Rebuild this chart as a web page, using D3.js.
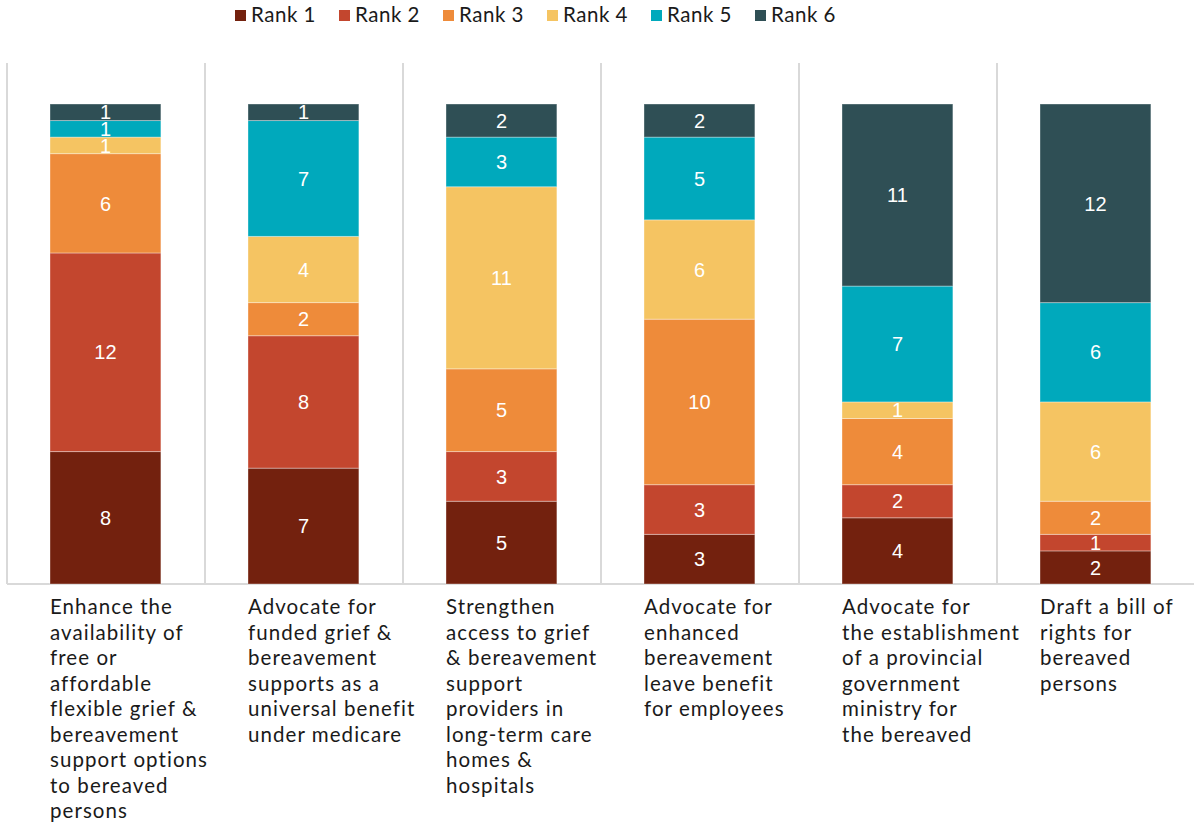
<!DOCTYPE html>
<html><head><meta charset="utf-8">
<script src="https://cdn.jsdelivr.net/npm/d3@7/dist/d3.min.js"></script>
<style>body{margin:0;background:#fff;}svg{display:block;}</style>
</head><body>
<svg id="chart" width="1194" height="825"></svg>
<script>
const categories = [
  ["Enhance the","availability of","free or","affordable","flexible grief &","bereavement","support options","to bereaved","persons"],
  ["Advocate for","funded grief &","bereavement","supports as a","universal benefit","under medicare"],
  ["Strengthen","access to grief","& bereavement","support","providers in","long-term care","homes &","hospitals"],
  ["Advocate for","enhanced","bereavement","leave benefit","for employees"],
  ["Advocate for","the establishment","of a provincial","government","ministry for","the bereaved"],
  ["Draft a bill of","rights for","bereaved","persons"]
];
const seriesNames = ["Rank 1","Rank 2","Rank 3","Rank 4","Rank 5","Rank 6"];
const rank1 = [8,7,5,3,4,2];
const rank2 = [12,8,3,3,2,1];
const rank3 = [6,2,5,10,4,2];
const rank4 = [1,4,11,6,1,6];
const rank5 = [1,7,3,5,7,6];
const rank6 = [1,1,2,2,11,12];
const colors = ["#73210e","#c3462e","#ee8b3a","#f5c462","#00a9bc","#2f4f55"];

const seriesVals = [rank1,rank2,rank3,rank4,rank5,rank6];
const data = categories.map((c,i)=>{
  const o = {idx:i};
  seriesNames.forEach((s,j)=>o[s]=seriesVals[j][i]);
  return o;
});
const svg = d3.select("#chart");
const FONT = "Lato, 'Noto Sans', sans-serif";
const x = d3.scaleBand().domain(d3.range(categories.length)).range([7,1195]).paddingInner(0).paddingOuter(0);
const y = d3.scaleLinear().domain([0,29]).range([584,104]);
const stack = d3.stack().keys(seriesNames)(data);

// letter spacing that makes a sample string reach a target width at a given size
function fitSpacing(sample, size, target){
  const t = svg.append("text").attr("font-family",FONT).attr("font-size",size).text(sample);
  const w = t.node().getComputedTextLength();
  t.remove();
  return (target - w) / sample.length;
}

// vertical gridlines
svg.append("g").selectAll("line").data(d3.range(categories.length)).join("line")
  .attr("x1",d=>x(d)).attr("x2",d=>x(d)).attr("y1",63).attr("y2",584)
  .attr("stroke","#d9d9d9").attr("stroke-width",2);
// baseline
svg.append("line").attr("x1",7).attr("x2",1194).attr("y1",584).attr("y2",584)
  .attr("stroke","#d9d9d9").attr("stroke-width",2);

const bw = x.bandwidth()*0.56;
const off = 43;
const layers = svg.append("g").selectAll("g").data(stack).join("g").attr("fill",(d,i)=>colors[i]);
layers.selectAll("rect").data(d=>d).join("rect")
  .attr("x",d=>x(d.data.idx)+off).attr("width",bw)
  .attr("y",d=>y(d[1])).attr("height",d=>y(d[0])-y(d[1]))
  .attr("stroke","rgba(255,255,255,0.35)").attr("stroke-width",1);
layers.selectAll("text").data(d=>d).join("text")
  .attr("x",d=>x(d.data.idx)+off+bw/2).attr("y",d=>(y(d[0])+y(d[1]))/2)
  .attr("dy","0.36em").attr("text-anchor","middle")
  .attr("fill","#fff").attr("font-family","Liberation Sans, Arial, sans-serif").attr("font-size",20)
  .text(d=>d[1]-d[0]);

// category labels
const labSize = 20.5;
const labSp = fitSpacing("Enhance the", labSize, 123);
const lab = svg.append("g").selectAll("text").data(categories).join("text")
  .attr("font-family",FONT).attr("font-size",labSize).attr("letter-spacing",labSp).attr("fill","#1a1a1a");
lab.each(function(lines,i){
  d3.select(this).selectAll("tspan").data(lines).join("tspan")
    .attr("x",x(i)+off).attr("y",(d,k)=>614+k*25.5).text(d=>d);
});

// legend
const legSize = 20.5;
const legSp = fitSpacing("Rank 2", legSize, 65);
const lg = svg.append("g");
let lx = 235;
seriesNames.forEach((s,i)=>{
  lg.append("rect").attr("x",lx).attr("y",10).attr("width",11).attr("height",11).attr("fill",colors[i]);
  const t = lg.append("text").attr("x",lx+16).attr("y",22).attr("font-family",FONT)
    .attr("font-size",legSize).attr("letter-spacing",legSp).attr("fill","#1a1a1a").text(s);
  lx += 16 + t.node().getComputedTextLength() + 23;
});
</script>
</body></html>
